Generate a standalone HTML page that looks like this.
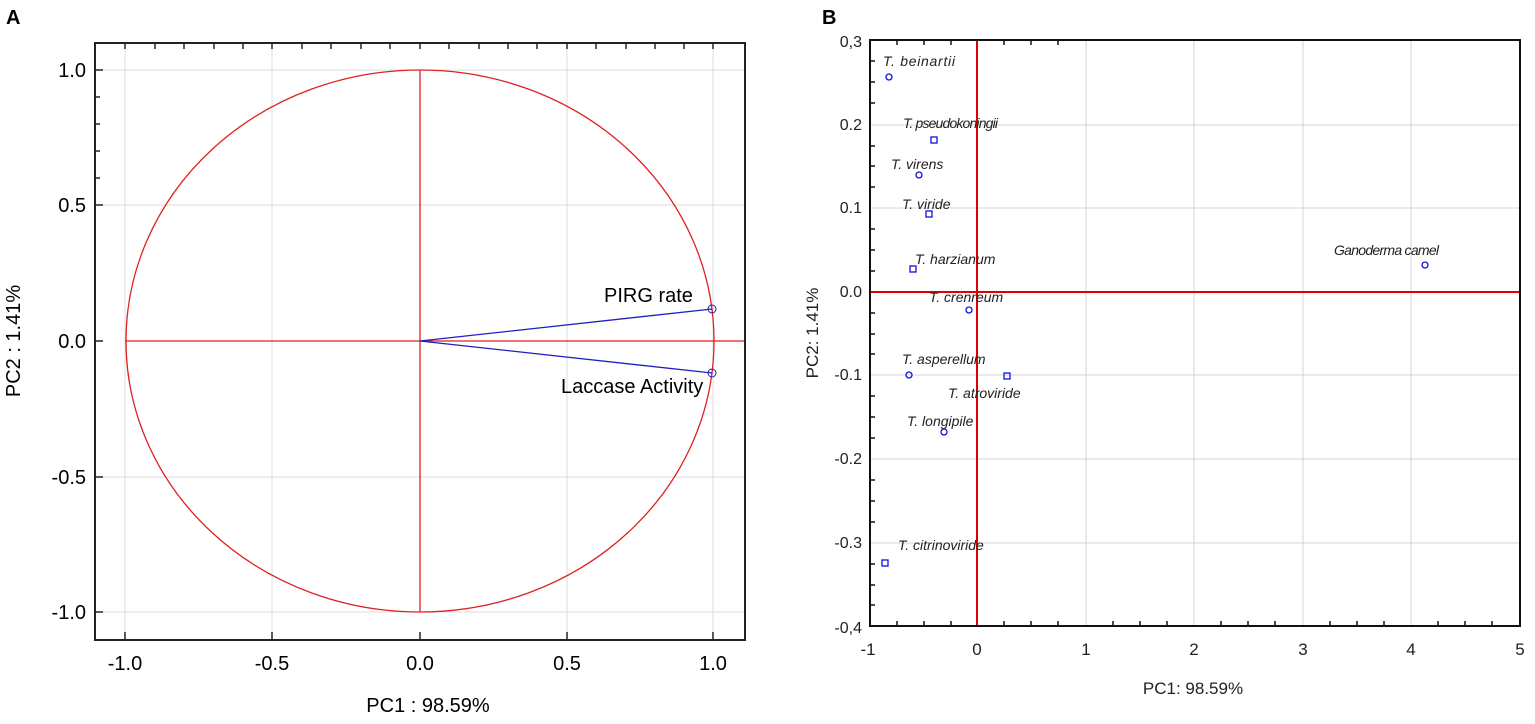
<!DOCTYPE html>
<html><head><meta charset="utf-8"><style>body{margin:0;background:#fff}svg{display:block}</style></head><body>
<svg width="1535" height="724" xmlns="http://www.w3.org/2000/svg" font-family="Liberation Sans, Arial, sans-serif">
<rect width="1535" height="724" fill="#fff"/>
<text x="6" y="24" font-size="20" font-weight="bold">A</text>
<text x="822" y="24" font-size="20" font-weight="bold">B</text>
<!-- Panel A -->
<g stroke="#dcdcdc" stroke-width="1">
<line x1="125" y1="43" x2="125" y2="640"/><line x1="272" y1="43" x2="272" y2="640"/><line x1="567" y1="43" x2="567" y2="640"/><line x1="713" y1="43" x2="713" y2="640"/>
<line x1="95" y1="70" x2="745" y2="70"/><line x1="95" y1="205" x2="745" y2="205"/><line x1="95" y1="477" x2="745" y2="477"/><line x1="95" y1="612" x2="745" y2="612"/>
</g>
<ellipse cx="420" cy="341" rx="294" ry="271" fill="none" stroke="#e02020" stroke-width="1.3"/>
<line x1="125" y1="341" x2="745" y2="341" stroke="#e02020" stroke-width="1.3"/>
<line x1="420" y1="70" x2="420" y2="612" stroke="#e02020" stroke-width="1.3"/>
<line x1="420" y1="341" x2="712" y2="309" stroke="#2020c0" stroke-width="1.3"/>
<line x1="420" y1="341" x2="712" y2="373" stroke="#2020c0" stroke-width="1.3"/>
<circle cx="712" cy="309" r="4" fill="none" stroke="#2020c0"/>
<circle cx="712" cy="373" r="4" fill="none" stroke="#2020c0"/>
<text x="604" y="302" font-size="20">PIRG rate</text>
<text x="561" y="393" font-size="20">Laccase Activity</text>
<rect x="95" y="43" width="650" height="597" fill="none" stroke="#222" stroke-width="2"/>
<g stroke="#222" stroke-width="1.5">
<line x1="125" y1="640" x2="125" y2="632"/><line x1="272" y1="640" x2="272" y2="632"/><line x1="420" y1="640" x2="420" y2="632"/><line x1="567" y1="640" x2="567" y2="632"/><line x1="713" y1="640" x2="713" y2="632"/>
<line x1="125" y1="43" x2="125" y2="49"/><line x1="155" y1="43" x2="155" y2="49"/><line x1="184" y1="43" x2="184" y2="49"/><line x1="214" y1="43" x2="214" y2="49"/><line x1="243" y1="43" x2="243" y2="49"/><line x1="272" y1="43" x2="272" y2="49"/><line x1="302" y1="43" x2="302" y2="49"/><line x1="331" y1="43" x2="331" y2="49"/><line x1="361" y1="43" x2="361" y2="49"/><line x1="390" y1="43" x2="390" y2="49"/><line x1="420" y1="43" x2="420" y2="49"/><line x1="449" y1="43" x2="449" y2="49"/><line x1="479" y1="43" x2="479" y2="49"/><line x1="508" y1="43" x2="508" y2="49"/><line x1="537" y1="43" x2="537" y2="49"/><line x1="567" y1="43" x2="567" y2="49"/><line x1="596" y1="43" x2="596" y2="49"/><line x1="626" y1="43" x2="626" y2="49"/><line x1="655" y1="43" x2="655" y2="49"/><line x1="684" y1="43" x2="684" y2="49"/><line x1="713" y1="43" x2="713" y2="49"/>
<line x1="95" y1="70" x2="103" y2="70"/><line x1="95" y1="205" x2="103" y2="205"/><line x1="95" y1="341" x2="103" y2="341"/><line x1="95" y1="477" x2="103" y2="477"/><line x1="95" y1="612" x2="103" y2="612"/>
<line x1="95" y1="97" x2="100" y2="97"/><line x1="95" y1="124" x2="100" y2="124"/><line x1="95" y1="151" x2="100" y2="151"/><line x1="95" y1="178" x2="100" y2="178"/>
</g>
<g font-size="20" text-anchor="end">
<text x="86" y="77">1.0</text><text x="86" y="212">0.5</text><text x="86" y="348">0.0</text><text x="86" y="484">-0.5</text><text x="86" y="619">-1.0</text>
</g>
<g font-size="20" text-anchor="middle">
<text x="125" y="670">-1.0</text><text x="272" y="670">-0.5</text><text x="420" y="670">0.0</text><text x="567" y="670">0.5</text><text x="713" y="670">1.0</text>
<text x="428" y="712">PC1 : 98.59%</text>
<text transform="translate(20,341) rotate(-90)">PC2 :  1.41%</text>
</g>
<!-- Panel B -->
<g stroke="#d4d4d4" stroke-width="1">
<line x1="1086" y1="40" x2="1086" y2="626"/><line x1="1194" y1="40" x2="1194" y2="626"/><line x1="1303" y1="40" x2="1303" y2="626"/><line x1="1411" y1="40" x2="1411" y2="626"/>
<line x1="870" y1="125" x2="1520" y2="125"/><line x1="870" y1="208" x2="1520" y2="208"/><line x1="870" y1="375" x2="1520" y2="375"/><line x1="870" y1="459" x2="1520" y2="459"/><line x1="870" y1="543" x2="1520" y2="543"/>
</g>
<line x1="977" y1="40" x2="977" y2="626" stroke="#e00000" stroke-width="2"/>
<line x1="870" y1="292" x2="1520" y2="292" stroke="#e00000" stroke-width="2"/>
<rect x="870" y="40" width="650" height="586" fill="none" stroke="#111" stroke-width="2"/>
<g stroke="#111" stroke-width="1.5">
<line x1="897" y1="626" x2="897" y2="621"/><line x1="924" y1="626" x2="924" y2="621"/><line x1="951" y1="626" x2="951" y2="621"/><line x1="1004" y1="626" x2="1004" y2="621"/><line x1="1031" y1="626" x2="1031" y2="621"/><line x1="1058" y1="626" x2="1058" y2="621"/><line x1="1113" y1="626" x2="1113" y2="621"/><line x1="1140" y1="626" x2="1140" y2="621"/><line x1="1167" y1="626" x2="1167" y2="621"/><line x1="1221" y1="626" x2="1221" y2="621"/><line x1="1248" y1="626" x2="1248" y2="621"/><line x1="1275" y1="626" x2="1275" y2="621"/><line x1="1330" y1="626" x2="1330" y2="621"/><line x1="1357" y1="626" x2="1357" y2="621"/><line x1="1384" y1="626" x2="1384" y2="621"/><line x1="1438" y1="626" x2="1438" y2="621"/><line x1="1465" y1="626" x2="1465" y2="621"/><line x1="1492" y1="626" x2="1492" y2="621"/>
<line x1="897" y1="40" x2="897" y2="45"/><line x1="924" y1="40" x2="924" y2="45"/><line x1="951" y1="40" x2="951" y2="45"/><line x1="1004" y1="40" x2="1004" y2="45"/><line x1="1031" y1="40" x2="1031" y2="45"/><line x1="1058" y1="40" x2="1058" y2="45"/>
<line x1="870" y1="61" x2="875" y2="61"/><line x1="870" y1="82" x2="875" y2="82"/><line x1="870" y1="103" x2="875" y2="103"/><line x1="870" y1="146" x2="875" y2="146"/><line x1="870" y1="166" x2="875" y2="166"/><line x1="870" y1="187" x2="875" y2="187"/><line x1="870" y1="229" x2="875" y2="229"/><line x1="870" y1="250" x2="875" y2="250"/><line x1="870" y1="271" x2="875" y2="271"/><line x1="870" y1="313" x2="875" y2="313"/><line x1="870" y1="334" x2="875" y2="334"/><line x1="870" y1="354" x2="875" y2="354"/><line x1="870" y1="396" x2="875" y2="396"/><line x1="870" y1="417" x2="875" y2="417"/><line x1="870" y1="438" x2="875" y2="438"/><line x1="870" y1="480" x2="875" y2="480"/><line x1="870" y1="501" x2="875" y2="501"/><line x1="870" y1="522" x2="875" y2="522"/><line x1="870" y1="564" x2="875" y2="564"/><line x1="870" y1="585" x2="875" y2="585"/><line x1="870" y1="605" x2="875" y2="605"/>
</g>
<g fill="none" stroke="#1010e0" stroke-width="1.3">
<circle cx="889" cy="77" r="3"/><rect x="931" y="137" width="6" height="6"/><circle cx="919" cy="175" r="3"/><rect x="926" y="211" width="6" height="6"/><rect x="910" y="266" width="6" height="6"/><circle cx="969" cy="310" r="3"/><circle cx="909" cy="375" r="3"/><rect x="1004" y="373" width="6" height="6"/><circle cx="944" cy="432" r="3"/><rect x="882" y="560" width="6" height="6"/><circle cx="1425" cy="265" r="3"/>
</g>
<g font-size="14" font-style="italic" fill="#222">
<text x="883" y="66" textLength="72">T. beinartii</text><text x="903" y="128" textLength="95">T. pseudokoningii</text><text x="891" y="169">T. virens</text><text x="902" y="209">T. viride</text><text x="915" y="264">T. harzianum</text><text x="929" y="302">T. crenreum</text><text x="902" y="364">T. asperellum</text><text x="948" y="398">T. atroviride</text><text x="907" y="426">T. longipile</text><text x="898" y="550">T. citrinoviride</text><text x="1334" y="255" textLength="105">Ganoderma camel</text>
</g>
<g font-size="16" fill="#222" text-anchor="end">
<text x="862" y="47">0,3</text><text x="862" y="130">0.2</text><text x="862" y="213">0.1</text><text x="862" y="297">0.0</text><text x="862" y="380">-0.1</text><text x="862" y="464">-0.2</text><text x="862" y="548">-0.3</text><text x="862" y="633">-0,4</text>
</g>
<g font-size="17" fill="#222" text-anchor="middle">
<text x="868" y="655">-1</text><text x="977" y="655">0</text><text x="1086" y="655">1</text><text x="1194" y="655">2</text><text x="1303" y="655">3</text><text x="1411" y="655">4</text><text x="1520" y="655">5</text>
<text x="1193" y="694">PC1: 98.59%</text>
<text transform="translate(818,333) rotate(-90)">PC2:  1.41%</text>
</g>
</svg>
</body></html>
